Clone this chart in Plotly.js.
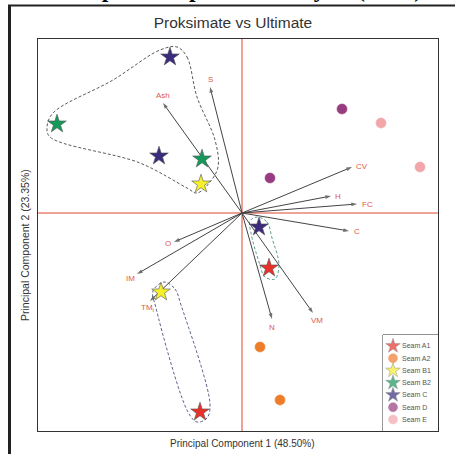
<!DOCTYPE html>
<html>
<head>
<meta charset="utf-8">
<script src="https://cdn.plot.ly/plotly-3.0.1.min.js"></script>
<style>html,body{margin:0;padding:0;background:#fff;}#chart{width:455px;height:454px;}</style>
</head>
<body>
<div id="chart"></div>
<script>
// ---- Data ----
const seams = ['Seam A1','Seam A2','Seam B1','Seam B2','Seam C','Seam D','Seam E'];
const seamSymbols = ['star','circle','star','star','star','circle','circle'];
const seamColors = ['#e8312a','#ee7d2a','#f6ef2c','#13995a','#3b2b7d','#973c80','#f2a6aa'];
const seamPC1 = [[0.675,-1.05],[0.45,0.95],[-1.025,-2.025],[-4.625,-1.0],[-1.8,-2.075,0.425],[2.5,0.7],[3.475,4.45]];
const seamPC2 = [[-1.375,-4.975],[-3.35,-4.675],[0.725,-1.975],[2.225,1.35],[3.9,1.425,-0.35],[2.6,0.875],[2.25,1.15]];

const varNames = ['Ash','S','CV','H','FC','C','O','IM','TM<sub>t</sub>','N','VM'];
const loadPC1 = [-1.975,-0.8,2.75,2.225,2.875,2.675,-1.7,-2.625,-2.3,0.75,1.775];
const loadPC2 = [2.75,3.15,1.15,0.425,0.225,-0.45,-0.725,-1.525,-2.2,-2.65,-2.5];

// group outlines (dashed)
const hullAx = [-1.625,-1.375,-1.125,-0.675,-0.6,-0.8,-1.125,-1.375,-2.55,-4.8,-4.875,-4.725,-3.225,-2.05,-1.625];
const hullAy = [4.15,3.9,2.9,1.825,1.15,0.775,0.5,0.625,1.25,1.9,2.15,2.5,3.325,4.075,4.15];
const hullBx = [-1.95,-1.675,-1.525,-0.8,-0.875,-1.125,-1.35,-2.15,-2.225,-1.95];
const hullBy = [-1.725,-1.9,-2.3,-4.775,-5.125,-5.225,-4.975,-2.375,-1.95,-1.725];
const hullCx = [0.375,0.625,0.75,0.925,0.825,0.575,0.425,0.225,0.2,0.375];
const hullCy = [-0.1,-0.225,-0.625,-1.3,-1.65,-1.6,-1.225,-0.5,-0.2,-0.1];

// ---- Build ----
const FONT = 'Liberation Sans, Arial, sans-serif';
const traces = [];
[[hullAx,hullAy,'#5a5a5a'],[hullBx,hullBy,'#5b6888'],[hullCx,hullCy,'#5f9d8e']].forEach(h=>{
  traces.push({x:h[0],y:h[1],type:'scatter',mode:'lines',line:{color:h[2],width:1,dash:'3px,2px',shape:'spline',smoothing:1},hoverinfo:'skip',showlegend:false});
});
// loading vectors: line from origin to tip, arrow marker at tip
const vx=[], vy=[], vsym=[], vsize=[];
varNames.forEach((v,i)=>{
  vx.push(0, loadPC1[i], null); vy.push(0, loadPC2[i], null);
  vsym.push('circle','arrow','circle'); vsize.push(0,6,0);
});
traces.push({x:vx,y:vy,type:'scatter',mode:'lines+markers',connectgaps:false,hoverinfo:'skip',showlegend:false,
  line:{color:'#444',width:1},marker:{symbol:vsym,size:vsize,angleref:'previous',color:'#333',line:{width:0}}});
seams.forEach((s,i)=>{
  traces.push({x:seamPC1[i],y:seamPC2[i],type:'scatter',mode:'markers',name:s,showlegend:false,
    marker:{symbol:seamSymbols[i],size:seamSymbols[i]==='star'?14:10,color:seamColors[i],line:{color:seamSymbols[i]==='star'?'#555':seamColors[i],width:0.6}}});
});
// custom legend on its own small axes
const legIdx = seams.map((s,i)=>i);
traces.push({x:legIdx.map(()=>10),y:legIdx,xaxis:'x2',yaxis:'y2',type:'scatter',mode:'markers',showlegend:false,hoverinfo:'skip',
  marker:{symbol:seamSymbols,size:seamSymbols.map(s=>s==='star'?11:9),color:seamColors,line:{color:seamSymbols.map((s,i)=>s==='star'?'#666':seamColors[i]),width:0.5}}});

const annotations = [];
const lab = {
 'Ash':{xanchor:'center',xs:0,ys:8},
 'S':{xanchor:'center',xs:0,ys:8},
 'CV':{xanchor:'left',xs:2,ys:1},
 'H':{xanchor:'left',xs:2,ys:0},
 'FC':{xanchor:'left',xs:3,ys:0},
 'C':{xanchor:'left',xs:3,ys:0},
 'O':{xanchor:'right',xs:-1,ys:-1},
 'IM':{xanchor:'right',xs:0,ys:-4},
 'TM<sub>t</sub>':{xanchor:'center',xs:-2,ys:-7},
 'N':{xanchor:'center',xs:0,ys:-8},
 'VM':{xanchor:'center',xs:4,ys:-7}
};
varNames.forEach((v,i)=>{
  const o = lab[v];
  annotations.push({x:loadPC1[i],y:loadPC2[i],xref:'x',yref:'y',text:v,showarrow:false,xanchor:o.xanchor,yanchor:'middle',
    xshift:o.xs,yshift:o.ys,font:{family:FONT,size:8,color:'#e2574a'}});
});
seams.forEach((s,i)=>{
  annotations.push({x:17,y:i,xref:'x2',yref:'y2',text:s,showarrow:false,xanchor:'left',yanchor:'middle',font:{family:FONT,size:7,color:'#555'}});
});
// axis titles
annotations.push({x:0.51,y:-0.033,xref:'paper',yref:'paper',text:'Principal Component 1 (48.50%)',showarrow:false,xanchor:'center',yanchor:'middle',font:{family:FONT,size:10,color:'#333'}});
annotations.push({x:-0.0325,y:0.4745,xref:'paper',yref:'paper',text:'Principal Component 2 (23.35%)',showarrow:false,textangle:-90,xanchor:'center',yanchor:'middle',font:{family:FONT,size:10.5,color:'#333'}});
// cut-off page heading above the frame
annotations.push({x:0.965,y:1.0905,xref:'paper',yref:'paper',text:'Principal Component Analysis (PCA)',showarrow:false,xanchor:'right',yanchor:'bottom',font:{family:'Liberation Serif, Times New Roman, serif',size:24,weight:'bold',color:'#000'}});

const layout = {
  width:455,height:454,
  margin:{l:38,r:17,t:39,b:23},
  paper_bgcolor:'#fff',plot_bgcolor:'#fff',
  showlegend:false,
  title:{text:'Proksimate vs Ultimate',font:{family:FONT,size:15.5,color:'#333'},xref:'container',x:0.512,xanchor:'center',yref:'container',y:0.951,yanchor:'middle'},
  xaxis:{range:[-5.1,4.9],showline:true,mirror:true,linecolor:'#333',linewidth:1.2,showgrid:false,zeroline:false,showticklabels:false,ticks:'',fixedrange:true},
  yaxis:{range:[-5.45,4.35],showline:true,mirror:true,linecolor:'#333',linewidth:1.2,showgrid:false,zeroline:false,showticklabels:false,ticks:'',fixedrange:true},
  xaxis2:{domain:[0.8625,1],range:[0,55],anchor:'y2',visible:false,fixedrange:true},
  yaxis2:{domain:[0,0.245],range:[6.94,-0.9],anchor:'x2',visible:false,fixedrange:true},
  shapes:[
    {type:'line',xref:'x',yref:'paper',x0:0,x1:0,y0:0,y1:1,line:{color:'#e0452f',width:1},layer:'below'},
    {type:'line',xref:'paper',yref:'y',x0:0,x1:1,y0:0,y1:0,line:{color:'#e0452f',width:1},layer:'below'},
    {type:'rect',xref:'paper',yref:'paper',x0:0.8625,x1:1,y0:0,y1:0.245,line:{color:'#333',width:1},fillcolor:'#fff',layer:'below'},
    {type:'line',xref:'paper',yref:'paper',x0:-0.07125,x1:-0.07125,y0:-0.07,y1:1.0855,line:{color:'#222',width:3}},
    {type:'line',xref:'paper',yref:'paper',x0:-0.075,x1:1.05,y0:1.0855,y1:1.0855,line:{color:'#222',width:2}}
  ],
  annotations:annotations
};
Plotly.newPlot('chart',traces,layout,{displayModeBar:false,staticPlot:true});
</script>
</body>
</html>
